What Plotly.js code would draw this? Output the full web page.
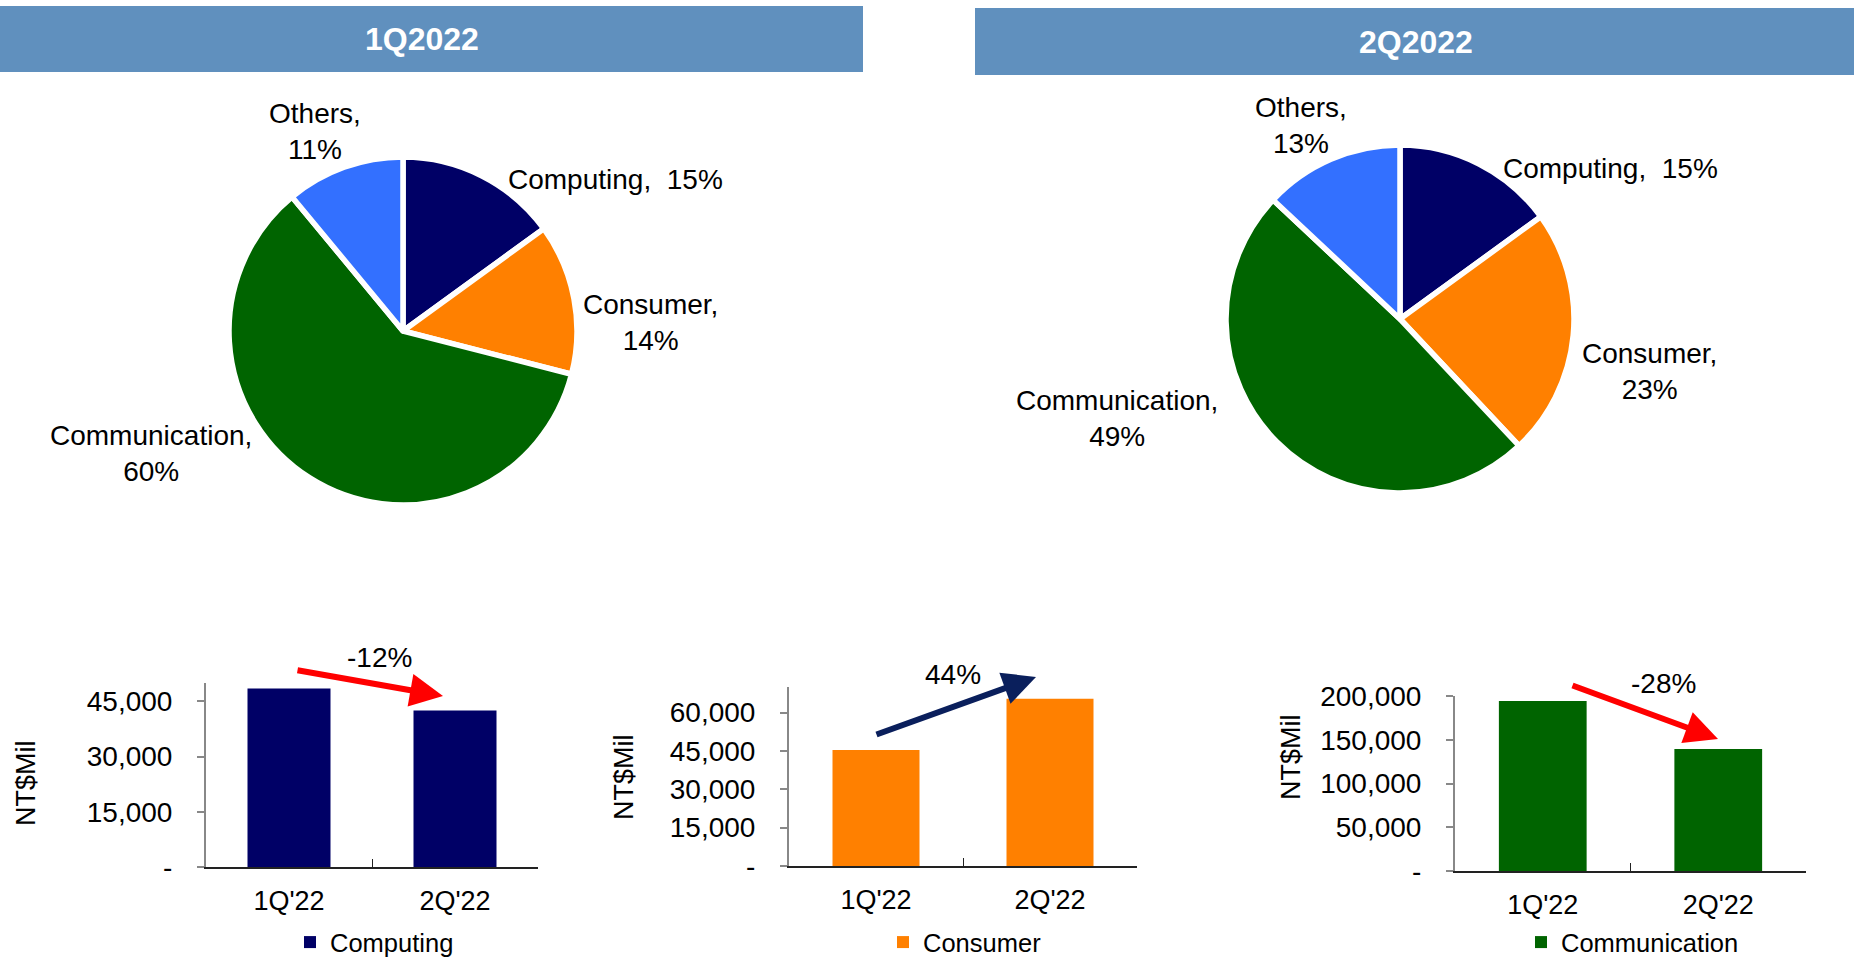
<!DOCTYPE html>
<html>
<head>
<meta charset="utf-8">
<script src="https://cdn.plot.ly/plotly-3.0.1.min.js"></script>
<style>
  body { margin: 0; background: #fff; overflow: hidden; }
  #plot { width: 1854px; height: 966px; }
</style>
</head>
<body>
<div id="plot"></div>
<script>
// Segment shares per quarter (%)
const segments = ["Computing", "Consumer", "Communication", "Others"];
const share1Q = [15, 14, 60, 11];
const share2Q = [15, 23, 49, 13];
const segColors = ["#000066", "#FF8000", "#006400", "#3370FF"];

// Revenue per segment, NT$Mil
const quarters = ["1Q'22", "2Q'22"];
const computingRev = [48500, 42500];
const consumerRev = [45400, 65400];
const communicationRev = [194300, 139400];

// Y axis ticks for each bar chart
const ticks1 = [0, 15000, 30000, 45000];
const ticks2 = [0, 15000, 30000, 45000, 60000];
const ticks3 = [0, 50000, 100000, 150000, 200000];

const font = "Liberation Sans, Arial, sans-serif";
const W = 1854, H = 966;

// pixel position -> paper coords
const px = x => x / W;
const py = y => (H - y) / H;

function tickText(vals) {
    return vals.map(v => v === 0 ? "-" : v.toLocaleString("en-US"));
}

// quarter-on-quarter change, rounded
function change(rev) {
    return Math.round((rev[1] / rev[0] - 1) * 100) + "%";
}

function pieTrace(values, cx, cy, r) {
    return {
        type: "pie",
        values: values,
        labels: segments,
        sort: false,
        direction: "clockwise",
        rotation: 0,
        textinfo: "none",
        marker: { colors: segColors, line: { color: "#fff", width: 5.5 } },
        domain: { x: [px(cx - r), px(cx + r)], y: [py(cy + r), py(cy - r)] },
        showlegend: false
    };
}

const data = [
    pieTrace(share1Q, 403, 331, 174),
    pieTrace(share2Q, 1400, 319, 174),
    {
        type: "bar", x: quarters, y: computingRev, name: "Computing",
        marker: { color: segColors[0] }, width: 0.5,
        xaxis: "x", yaxis: "y", legend: "legend"
    },
    {
        type: "bar", x: quarters, y: consumerRev, name: "Consumer",
        marker: { color: segColors[1] }, width: 0.5,
        xaxis: "x2", yaxis: "y2", legend: "legend2"
    },
    {
        type: "bar", x: quarters, y: communicationRev, name: "Communication",
        marker: { color: segColors[2] }, width: 0.5,
        xaxis: "x3", yaxis: "y3", legend: "legend3"
    }
];

function xAxis(dom, anchor) {
    return {
        domain: dom, anchor: anchor, type: "category",
        showline: true, linecolor: "#222", linewidth: 2,
        ticks: "inside", tickson: "boundaries", ticklen: 8, tickcolor: "#222",
        tickfont: { family: font, size: 27, color: "#000" }, ticklabelstandoff: 9,
        showgrid: false, zeroline: false, fixedrange: true
    };
}

function yAxis(dom, anchor, range, vals) {
    return {
        domain: dom, anchor: anchor, range: range,
        tickvals: vals, ticktext: tickText(vals),
        showline: true, linecolor: "#888", linewidth: 2,
        ticks: "outside", ticklen: 7, tickcolor: "#888", tickwidth: 2,
        tickfont: { family: font, size: 28, color: "#000" }, ticklabelstandoff: 19,
        showgrid: false, zeroline: false, fixedrange: true
    };
}

// legends sit on the bottom edge so they don't push the margins
function legendAt(x) {
    return {
        x: x, y: 0, xanchor: "left", yanchor: "bottom",
        font: { family: font, size: 25.5, color: "#000" },
        bgcolor: "rgba(0,0,0,0)", itemwidth: 30
    };
}

const annotations = [];

function note(x, y, text, size, extra) {
    annotations.push(Object.assign({
        xref: "paper", yref: "paper", x: px(x), y: py(y),
        xanchor: "center", yanchor: "middle",
        text: text, showarrow: false, align: "center",
        font: { family: font, size: size, color: "#000" }
    }, extra || {}));
}

// header titles
note(422, 39, "<b>1Q2022</b>", 32, { font: { family: font, size: 32, color: "#fff" } });
note(1416, 42, "<b>2Q2022</b>", 32, { font: { family: font, size: 32, color: "#fff" } });

// pie labels
function pieLabel(i, shares, x, y) {
    const txt = i === 0
        ? segments[i] + ",&nbsp; " + shares[i] + "%"
        : segments[i] + ",<br>" + shares[i] + "%";
    note(x, y, txt, 28);
}
pieLabel(0, share1Q, 615, 179);
pieLabel(1, share1Q, 650, 322);
pieLabel(2, share1Q, 151, 454);
pieLabel(3, share1Q, 315, 131);
pieLabel(0, share2Q, 1610, 168);
pieLabel(1, share2Q, 1649, 372);
pieLabel(2, share2Q, 1117, 418);
pieLabel(3, share2Q, 1301, 125);

// y axis titles
note(26, 783, "NT$Mil", 27, { textangle: -90 });
note(624, 777, "NT$Mil", 27, { textangle: -90 });
note(1291, 757, "NT$Mil", 27, { textangle: -90 });

// growth arrows and labels
function growth(tail, head, color, label, lx, ly) {
    annotations.push({
        xref: "paper", yref: "paper", x: px(head[0]), y: py(head[1]),
        ax: tail[0] - head[0], ay: tail[1] - head[1],
        text: "", showarrow: true, arrowcolor: color, arrowwidth: 6,
        arrowhead: 2, arrowsize: 1.1, standoff: 0
    });
    note(lx, ly, label, 28);
}
growth([296, 670], [443, 696], "#FF0000", change(computingRev), 379, 657);
growth([875, 735], [1036, 677], "#0A1F5C", change(consumerRev), 953, 674);
growth([1571, 685], [1718, 739], "#FF0000", change(communicationRev), 1663, 683);

const layout = {
    width: W, height: H,
    margin: { l: 0, r: 0, t: 0, b: 0 },
    paper_bgcolor: "#fff", plot_bgcolor: "rgba(0,0,0,0)",
    font: { family: font, color: "#000" },
    showlegend: true,
    xaxis: xAxis([px(206), px(538)], "y"),
    yaxis: yAxis([py(867), py(683)], "x", [0, 50000], ticks1),
    xaxis2: xAxis([px(789), px(1137)], "y2"),
    yaxis2: yAxis([py(866), py(687)], "x2", [0, 70000], ticks2),
    xaxis3: xAxis([px(1455), px(1806)], "y3"),
    yaxis3: yAxis([py(871), py(696)], "x3", [0, 200000], ticks3),
    legend: legendAt(px(290)),
    legend2: legendAt(px(883)),
    legend3: legendAt(px(1521)),
    shapes: [
        { type: "rect", xref: "paper", yref: "paper", x0: 0, x1: px(863), y0: py(72), y1: py(6),
          fillcolor: "#6090BE", line: { width: 0 }, layer: "below" },
        { type: "rect", xref: "paper", yref: "paper", x0: px(975), x1: 1, y0: py(75), y1: py(8),
          fillcolor: "#6090BE", line: { width: 0 }, layer: "below" }
    ],
    annotations: annotations
};

Plotly.newPlot("plot", data, layout, { displayModeBar: false, staticPlot: true });
</script>
</body>
</html>
